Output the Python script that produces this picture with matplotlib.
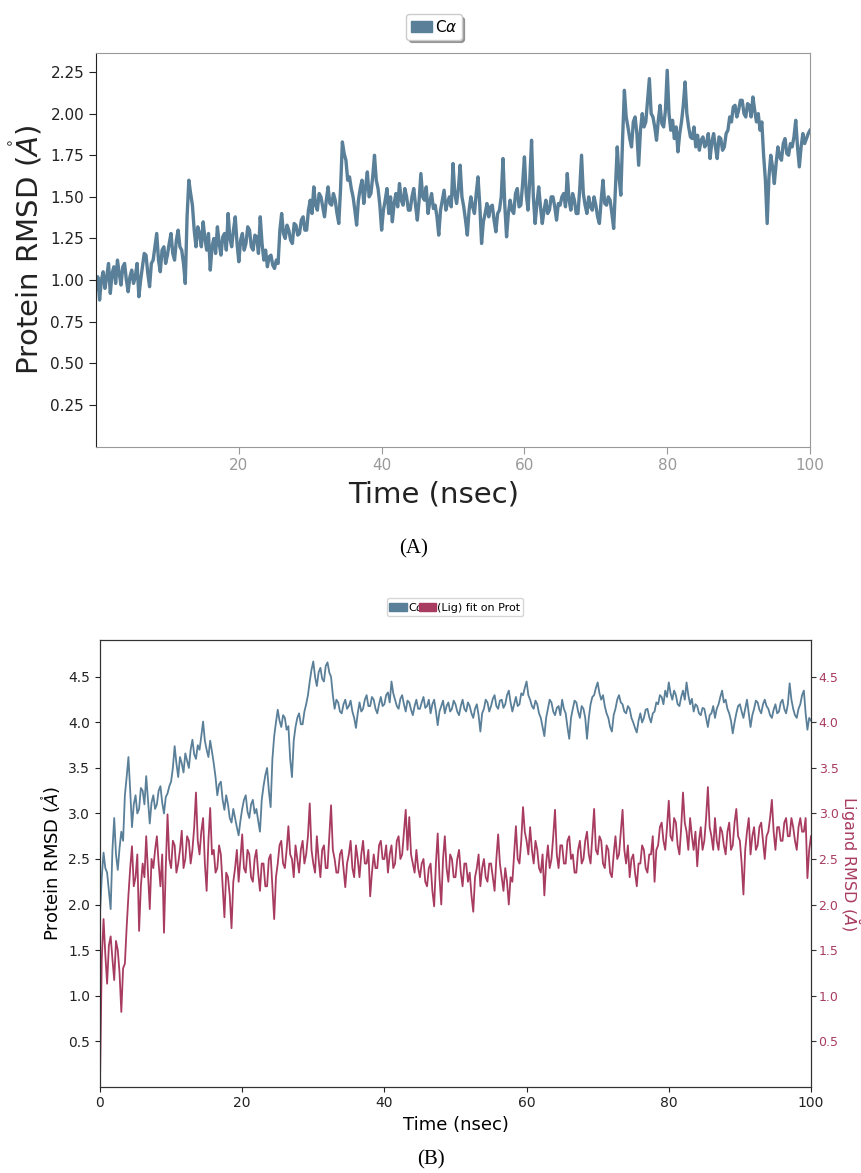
import numpy as np
import matplotlib
matplotlib.use("Agg")
import matplotlib.pyplot as plt
from matplotlib.patches import Patch

# ================= DATA (0.25 ns steps) =================
ca_rmsd_a = [
    0.95, 1.02, 0.88, 1.00, 1.05, 0.95, 1.02, 1.10, 0.92, 1.04, 1.08, 0.98, 1.12, 1.04, 0.97, 1.08, 1.10, 1.00, 0.93, 1.02,
    1.06, 0.98, 1.02, 1.10, 0.90, 1.00, 1.08, 1.16, 1.15, 1.04, 0.96, 1.10, 1.12, 1.20, 1.28, 1.12, 1.05, 1.18, 1.20, 1.10,
    1.15, 1.22, 1.28, 1.16, 1.12, 1.24, 1.30, 1.20, 1.18, 1.10, 0.98, 1.38, 1.60, 1.52, 1.45, 1.30, 1.20, 1.32, 1.28, 1.20,
    1.35, 1.25, 1.18, 1.28, 1.06, 1.20, 1.25, 1.16, 1.32, 1.22, 1.15, 1.26, 1.28, 1.18, 1.40, 1.25, 1.20, 1.30, 1.38, 1.22,
    1.11, 1.24, 1.28, 1.18, 1.22, 1.32, 1.30, 1.20, 1.18, 1.27, 1.26, 1.16, 1.38, 1.22, 1.12, 1.18, 1.08, 1.14, 1.15, 1.09,
    1.07, 1.12, 1.10, 1.30, 1.40, 1.28, 1.25, 1.33, 1.30, 1.24, 1.22, 1.34, 1.33, 1.27, 1.28, 1.36, 1.38, 1.30, 1.30, 1.42,
    1.48, 1.40, 1.56, 1.45, 1.42, 1.52, 1.50, 1.44, 1.38, 1.48, 1.56, 1.46, 1.45, 1.52, 1.48, 1.40, 1.34, 1.55, 1.83, 1.76,
    1.72, 1.60, 1.62, 1.55, 1.50, 1.42, 1.33, 1.48, 1.55, 1.60, 1.46, 1.56, 1.65, 1.50, 1.52, 1.62, 1.75, 1.60, 1.55, 1.45,
    1.30, 1.42, 1.48, 1.55, 1.40, 1.50, 1.35, 1.46, 1.52, 1.44, 1.58, 1.48, 1.45, 1.55, 1.50, 1.42, 1.42, 1.50, 1.55, 1.45,
    1.36, 1.48, 1.64, 1.50, 1.48, 1.56, 1.40, 1.47, 1.52, 1.43, 1.45, 1.38, 1.27, 1.42, 1.48, 1.54, 1.42, 1.47, 1.50, 1.44,
    1.70, 1.52, 1.46, 1.55, 1.69, 1.50, 1.44, 1.36, 1.27, 1.42, 1.50, 1.44, 1.40, 1.52, 1.62, 1.45, 1.22, 1.35, 1.40, 1.46,
    1.38, 1.44, 1.45, 1.36, 1.29, 1.40, 1.42, 1.50, 1.73, 1.45, 1.26, 1.40, 1.48, 1.42, 1.40, 1.52, 1.55, 1.44, 1.45, 1.58,
    1.74, 1.52, 1.42, 1.60, 1.84, 1.50, 1.34, 1.46, 1.56, 1.44, 1.34, 1.42, 1.48, 1.40, 1.42, 1.50, 1.50, 1.44, 1.36, 1.46,
    1.45, 1.50, 1.52, 1.44, 1.64, 1.48, 1.42, 1.52, 1.48, 1.40, 1.40, 1.55, 1.75, 1.52, 1.45, 1.40, 1.50, 1.44, 1.42, 1.50,
    1.45, 1.38, 1.34, 1.48, 1.60, 1.46, 1.45, 1.50, 1.48, 1.40, 1.31, 1.55, 1.80, 1.62, 1.51, 1.85, 2.14, 1.98, 1.92, 1.85,
    1.80, 1.95, 1.98, 1.88, 1.69, 1.90, 2.00, 1.92, 1.95, 2.08, 2.21, 2.00, 1.98, 1.92, 1.84, 1.96, 2.05, 1.94, 1.92, 2.02,
    2.26, 2.00, 1.90, 1.96, 1.85, 1.92, 1.77, 1.88, 1.95, 2.05, 2.19, 2.00, 1.92, 1.86, 1.85, 1.92, 1.80, 1.87, 1.78, 1.84,
    1.86, 1.80, 1.82, 1.88, 1.73, 1.83, 1.88, 1.80, 1.73, 1.86, 1.85, 1.78, 1.80, 1.88, 1.90, 1.98, 1.95, 2.04, 2.05, 1.98,
    2.02, 2.08, 2.08, 2.00, 1.98, 2.06, 2.05, 1.98, 2.10, 2.02, 1.95, 2.00, 1.90, 1.95, 1.75, 1.60, 1.34, 1.62, 1.75, 1.68,
    1.58, 1.70, 1.80, 1.74, 1.72, 1.82, 1.85, 1.76, 1.75, 1.82, 1.80, 1.86, 1.96, 1.80, 1.68, 1.80, 1.88, 1.82, 1.85, 1.88,
    1.90,
]

ca_rmsd_b = [
    1.90, 2.30, 2.57, 2.40, 2.35, 2.15, 1.95, 2.60, 2.95, 2.55, 2.38, 2.62, 2.80, 2.70, 3.20, 3.40, 3.62, 3.25, 2.85, 3.10,
    3.20, 3.00, 3.05, 3.28, 3.25, 3.10, 3.41, 3.15, 2.89, 3.12, 3.20, 3.05, 3.10, 3.25, 3.30, 3.12, 3.00, 3.18, 3.22, 3.30,
    3.35, 3.50, 3.74, 3.55, 3.40, 3.62, 3.55, 3.45, 3.66, 3.58, 3.50, 3.70, 3.81, 3.65, 3.60, 3.75, 3.70, 3.85, 4.01, 3.80,
    3.70, 3.62, 3.80, 3.68, 3.55, 3.40, 3.20, 3.32, 3.35, 3.15, 3.04, 3.20, 3.10, 2.95, 2.90, 3.05, 2.95, 2.85, 2.76, 2.92,
    3.05, 3.15, 3.20, 3.02, 2.95, 3.10, 3.15, 3.00, 3.05, 2.92, 2.80, 3.15, 3.30, 3.42, 3.50, 3.25, 3.07, 3.60, 3.85, 4.00,
    4.14, 4.02, 3.95, 4.08, 4.05, 3.92, 3.96, 3.60, 3.40, 3.80, 3.95, 4.05, 4.10, 3.98, 3.98, 4.12, 4.20, 4.30, 4.45, 4.58,
    4.67, 4.50, 4.40, 4.55, 4.60, 4.48, 4.45, 4.62, 4.66, 4.55, 4.50, 4.30, 4.15, 4.25, 4.22, 4.12, 4.10, 4.20, 4.25, 4.15,
    4.18, 4.24, 4.12, 4.05, 3.94, 4.10, 4.22, 4.12, 4.15, 4.25, 4.30, 4.18, 4.18, 4.28, 4.25, 4.15, 4.10, 4.20, 4.28, 4.18,
    4.20, 4.30, 4.33, 4.22, 4.45, 4.32, 4.25, 4.18, 4.15, 4.26, 4.30, 4.20, 4.12, 4.24, 4.22, 4.14, 4.08, 4.18, 4.25, 4.15,
    4.15, 4.22, 4.28, 4.16, 4.18, 4.25, 4.10, 4.20, 4.25, 4.12, 3.97, 4.12, 4.18, 4.24, 4.10, 4.18, 4.22, 4.12, 4.15, 4.24,
    4.20, 4.12, 4.08, 4.18, 4.25, 4.15, 4.12, 4.22, 4.18, 4.10, 4.05, 4.15, 4.20, 4.08, 3.90, 4.10, 4.15, 4.25, 4.22, 4.12,
    4.18, 4.26, 4.30, 4.18, 4.15, 4.24, 4.25, 4.16, 4.20, 4.30, 4.35, 4.22, 4.12, 4.20, 4.28, 4.18, 4.20, 4.32, 4.30, 4.38,
    4.45, 4.30, 4.25, 4.18, 4.15, 4.24, 4.20, 4.10, 4.05, 3.95, 3.85, 4.05, 4.15, 4.25, 4.22, 4.12, 4.08, 4.16, 4.18, 4.08,
    4.25, 4.15, 4.10, 3.95, 3.82, 4.05, 4.15, 4.24, 4.22, 4.12, 4.05, 4.18, 4.15, 4.05, 3.82, 4.05, 4.20, 4.28, 4.30, 4.38,
    4.44, 4.32, 4.25, 4.30, 4.18, 4.10, 4.05, 3.95, 3.90, 4.08, 4.15, 4.25, 4.30, 4.22, 4.20, 4.12, 4.10, 4.18, 4.15, 4.05,
    4.00, 3.94, 3.89, 4.02, 4.10, 4.00, 4.05, 4.14, 4.15, 4.06, 4.00, 4.10, 4.12, 4.22, 4.20, 4.30, 4.28, 4.20, 4.35, 4.28,
    4.44, 4.32, 4.25, 4.35, 4.30, 4.20, 4.18, 4.28, 4.35, 4.25, 4.44, 4.30, 4.20, 4.26, 4.12, 4.20, 4.18, 4.10, 4.08, 4.16,
    4.15, 4.05, 3.95, 4.08, 4.10, 4.18, 4.05, 4.15, 4.20, 4.28, 4.35, 4.22, 4.25, 4.15, 4.10, 4.02, 3.88, 4.00, 4.10, 4.18,
    4.20, 4.12, 4.05, 4.15, 4.25, 4.10, 3.95, 4.08, 4.15, 4.24, 4.22, 4.14, 4.10, 4.20, 4.25, 4.18, 4.15, 4.08, 4.05, 4.14,
    4.20, 4.10, 4.12, 4.22, 4.25, 4.15, 4.10, 4.20, 4.43, 4.25, 4.15, 4.08, 4.05, 4.15, 4.20, 4.30, 4.35, 4.10, 3.92, 4.05,
    4.02,
]

lig_rmsd_b = [
    0.05, 1.40, 1.84, 1.45, 1.13, 1.55, 1.65, 1.40, 1.17, 1.60, 1.50, 1.25, 0.82, 1.30, 1.35, 1.75, 2.10, 2.40, 2.64, 2.20,
    2.30, 2.55, 1.71, 2.20, 2.45, 2.30, 2.75, 2.35, 1.95, 2.50, 2.40, 2.60, 2.75, 2.45, 2.20, 2.55, 1.69, 2.40, 2.99, 2.50,
    2.40, 2.70, 2.65, 2.35, 2.45, 2.60, 2.81, 2.40, 2.50, 2.75, 2.70, 2.45, 2.60, 2.85, 3.23, 2.70, 2.55, 2.80, 2.95, 2.45,
    2.15, 2.70, 3.06, 2.55, 2.60, 2.35, 2.40, 2.65, 2.55, 2.20, 1.86, 2.35, 2.30, 2.10, 1.74, 2.25, 2.40, 2.60, 2.25, 2.50,
    2.77, 2.40, 2.35, 2.60, 2.55, 2.30, 2.25, 2.50, 2.60, 2.35, 2.15, 2.45, 2.45, 2.20, 2.20, 2.50, 2.55, 2.20, 1.84, 2.30,
    2.45, 2.65, 2.70, 2.45, 2.40, 2.60, 2.86, 2.55, 2.50, 2.30, 2.65, 2.50, 2.35, 2.60, 2.70, 2.45, 2.55, 2.75, 3.11, 2.60,
    2.45, 2.35, 2.75, 2.50, 2.30, 2.60, 2.65, 2.40, 2.40, 2.75, 3.09, 2.60, 2.50, 2.35, 2.35, 2.55, 2.60, 2.40, 2.19, 2.45,
    2.55, 2.70, 2.40, 2.30, 2.65, 2.50, 2.30, 2.55, 2.70, 2.45, 2.45, 2.60, 2.09, 2.35, 2.55, 2.40, 2.40, 2.65, 2.70, 2.50,
    2.50, 2.65, 2.35, 2.55, 2.65, 2.40, 2.45, 2.70, 2.75, 2.50, 2.55, 2.80, 3.04, 2.60, 2.96, 2.55, 2.45, 2.35, 2.60, 2.40,
    2.30, 2.45, 2.50, 2.25, 2.20, 2.40, 2.45, 2.15, 1.98, 2.45, 2.78, 2.30, 2.00, 2.50, 2.75, 2.40, 2.25, 2.55, 2.50, 2.30,
    2.30, 2.50, 2.60, 2.35, 2.20, 2.45, 2.45, 2.25, 2.35, 2.10, 1.92, 2.30, 2.40, 2.55, 2.20, 2.40, 2.50, 2.30, 2.25, 2.45,
    2.45, 2.30, 2.15, 2.50, 2.77, 2.45, 2.30, 2.15, 2.40, 2.25, 2.00, 2.30, 2.25, 2.55, 2.86, 2.50, 2.45, 2.70, 3.07, 2.80,
    2.70, 2.55, 2.85, 2.60, 2.45, 2.70, 2.60, 2.40, 2.35, 2.55, 2.10, 2.45, 2.65, 2.40, 2.50, 2.75, 3.04, 2.55, 2.40, 2.65,
    2.65, 2.45, 2.45, 2.70, 2.75, 2.50, 2.55, 2.35, 2.35, 2.60, 2.70, 2.45, 2.50, 2.70, 2.80, 2.55, 2.45, 2.75, 3.05, 2.60,
    2.55, 2.75, 2.70, 2.45, 2.40, 2.65, 2.60, 2.35, 2.30, 2.55, 2.75, 2.50, 2.55, 2.80, 3.04, 2.60, 2.45, 2.65, 2.30, 2.50,
    2.55, 2.35, 2.20, 2.45, 2.45, 2.65, 2.60, 2.40, 2.35, 2.55, 2.55, 2.75, 2.25, 2.60, 2.65, 2.85, 2.90, 2.70, 2.60, 2.85,
    3.14, 2.75, 2.70, 2.95, 2.90, 2.65, 2.55, 2.85, 3.23, 2.90, 2.80, 2.60, 2.95, 2.75, 2.60, 2.80, 2.42, 2.70, 2.85, 2.60,
    2.70, 2.95, 3.29, 2.85, 2.75, 2.60, 2.95, 2.70, 2.60, 2.85, 2.80, 2.65, 2.55, 2.80, 2.90, 2.60, 2.65, 2.90, 3.05, 2.75,
    2.70, 2.45, 2.11, 2.60, 2.80, 2.95, 2.55, 2.75, 2.85, 2.60, 2.65, 2.85, 2.90, 2.70, 2.50, 2.75, 2.80, 2.95, 3.15, 2.80,
    2.60, 2.85, 2.85, 2.70, 2.70, 2.90, 2.95, 2.75, 2.75, 2.95, 2.85, 2.70, 2.60, 2.85, 2.95, 2.80, 2.80, 2.95, 2.29, 2.60,
    2.75,
]

time_a = np.linspace(0, 100, len(ca_rmsd_a))
time_b = np.linspace(0, 100, len(ca_rmsd_b))

BLUE = "#5a7f98"
RED = "#a83c60"

fig = plt.figure(figsize=(8.62, 11.73), dpi=100)

# ================= PANEL A =================
ax1 = fig.add_axes([0.1114, 0.6193, 0.8283, 0.3355])
ax1.plot(time_a, ca_rmsd_a, color=BLUE, linewidth=2.4)
ax1.set_xlim(0, 100)
ax1.set_ylim(0, 2.364)
ax1.set_xticks([20, 40, 60, 80, 100])
ax1.set_yticks([0.25, 0.5, 0.75, 1.0, 1.25, 1.5, 1.75, 2.0, 2.25])
ax1.tick_params(axis='x', colors='#999999', labelsize=11, length=5)
ax1.tick_params(axis='y', colors='#222222', labelsize=11, length=5)
for side in ['top', 'right', 'bottom']:
    ax1.spines[side].set_color('#999999')
ax1.spines['left'].set_color('#222222')
ax1.set_xlabel('Time (nsec)', fontsize=21, color='#222222')
ax1.xaxis.set_label_coords(0.473, -0.085)
ax1.set_ylabel(r'Protein RMSD ($\mathring{A}$)', fontsize=21, color='#222222')

fig.legend(handles=[Patch(color=BLUE, label=r'C$\alpha$')],
           loc='center', bbox_to_anchor=(434 / 862, 1 - 27 / 1173),
           fontsize=11, shadow=True, fancybox=True,
           handlelength=1.4, handletextpad=0.15, borderpad=0.3)

fig.text(414 / 862, 1 - 549 / 1173, '(A)', ha='center', va='center',
         fontsize=15, family='Liberation Serif')

# ================= PANEL B =================
ax2 = fig.add_axes([0.116, 0.0737, 0.8248, 0.3807])
ax2.plot(time_b, ca_rmsd_b, color=BLUE, linewidth=1.3)
ax2.set_xlim(0, 100)
ax2.set_ylim(0, 4.906)
ax2.set_xticks([0, 20, 40, 60, 80, 100])
ax2.set_yticks([0.5, 1.0, 1.5, 2.0, 2.5, 3.0, 3.5, 4.0, 4.5])
ax2.tick_params(labelsize=10, colors='#222222')
ax2.set_xlabel('Time (nsec)', fontsize=13)
ax2.set_ylabel(r'Protein RMSD ($\mathring{A}$)', fontsize=13)
for side in ax2.spines:
    ax2.spines[side].set_color('#333333')

ax3 = ax2.twinx()
ax3.plot(time_b, lig_rmsd_b, color=RED, linewidth=1.3)
ax3.set_ylim(0, 4.906)
ax3.set_yticks([0.5, 1.0, 1.5, 2.0, 2.5, 3.0, 3.5, 4.0, 4.5])
ax3.tick_params(axis='y', labelsize=9, labelcolor=RED, color='#333333',
                length=3.5, pad=2)
ax3.set_ylabel(r'Ligand RMSD ($\breve{A}$)', fontsize=11.5, color=RED,
               rotation=270, va='center', ha='center')
ax3.yaxis.set_label_coords(1.054, 0.5)
ax2.set_zorder(ax3.get_zorder() + 1)
ax2.patch.set_visible(False)

fig.legend(handles=[Patch(color=BLUE, label=r'C$\alpha$'),
                    Patch(color=RED, label='(Lig) fit on Prot')],
           loc='center', bbox_to_anchor=(455 / 862, 1 - 607 / 1173),
           ncol=2, fontsize=8, handlelength=1.6, handletextpad=0.1,
           columnspacing=-0.6, borderpad=0.25, fancybox=True)

fig.text(431 / 862, 1 - 1160 / 1173, '(B)', ha='center', va='center',
         fontsize=15, family='Liberation Serif')

fig.savefig("out.png", dpi=100)
print("[OK] Saved chart")
